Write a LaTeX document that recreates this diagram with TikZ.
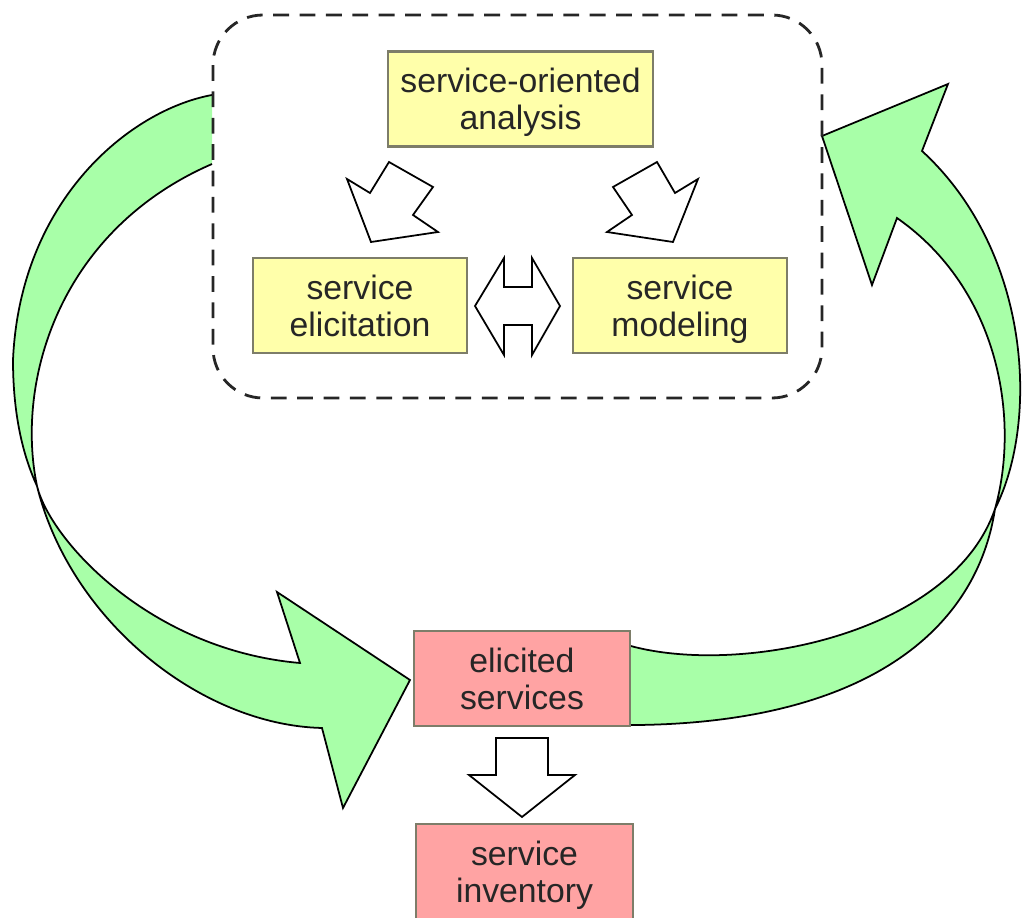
\documentclass[tikz,border=0pt]{standalone}
\usepackage{fontspec}
\setmainfont{Liberation Sans}
\usepackage{tikz}
\definecolor{Y}{RGB}{255,255,170}
\definecolor{P}{RGB}{255,163,163}
\definecolor{G}{RGB}{168,255,168}
\definecolor{E}{RGB}{125,125,105}
\newcommand{\drawthin}{\draw[line width=0.5pt]}
\newcommand{\twolines}[2]{\rule{0pt}{10.1pt}#1\\\strut#2}
\newcommand{\leftloop}{(212,95) .. controls (130,110) and (20,200) .. (13,360) .. controls (13,420) and (25,460) .. (37,486) .. controls (50,540) and (150,650) .. (300,663) -- (277,592) -- (410,680) -- (343,808) -- (322,728) .. controls (200,725) and (70,620) .. (37,486) .. controls (15,380) and (60,230) .. (212,164)}
\newcommand{\rightloop}{(615,641) .. controls (720,680) and (950,640) .. (995,509) .. controls (1040,420) and (1030,250) .. (922,151) -- (948,84) -- (822,136) -- (872,285) -- (897,218) .. controls (1000,290) and (1020,420) .. (995,509) .. controls (975,640) and (850,728) .. (615,725)}
\tikzset{
  box/.style={draw=E,line width=0.6pt,align=center,text=black!85,font=\fontsize{9.6}{10.4}\selectfont,inner sep=0pt},
  ybox/.style={box,fill=Y,minimum width=2.14cm,minimum height=0.95cm},
  pbox/.style={box,fill=P,minimum width=2.16cm,minimum height=0.95cm}
}
\begin{document}
\begin{tikzpicture}[x=0.01cm,y=-0.01cm]
\useasboundingbox (0,0) rectangle (1023,918);
\fill[G] \leftloop -- cycle;
\drawthin \leftloop;
\fill[G] \rightloop -- cycle;
\drawthin \rightloop;
\draw[line width=0.8pt,dash pattern=on 4.5pt off 3pt,black!85,rounded corners=0.5cm] (213,15) rectangle (822,398);
\node[ybox,minimum width=2.65cm] (analysis) at (520.5,99) {\twolines{service-oriented}{analysis}};
\node[ybox] (elicitation) at (360,305.5) {\twolines{service}{elicitation}};
\node[ybox] (modeling) at (680,305.5) {\twolines{service}{modeling}};
\node[pbox] (elicited) at (522,678.5) {\twolines{elicited}{services}};
\node[pbox] (inventory) at (524.5,871.5) {\twolines{service}{inventory}};
\drawthin[fill=white] (389,162)--(433,187)--(413,215)--(438,232)--(371,242)--(347,179)--(370,193)--cycle;
\drawthin[fill=white] (657,162)--(675,193)--(698,179)--(673,242)--(607,232)--(632,215)--(613,187)--cycle;
\drawthin[fill=white] (475,306)--(504,258)--(504,287)--(532,287)--(532,258)--(560,306)--(532,355)--(532,325)--(504,325)--(504,355)--cycle;
\drawthin[fill=white] (496,738)--++(52,0)--++(0,37)--++(27,0)--(522,817)--(469,775)--++(27,0)--cycle;
\end{tikzpicture}
\end{document}
